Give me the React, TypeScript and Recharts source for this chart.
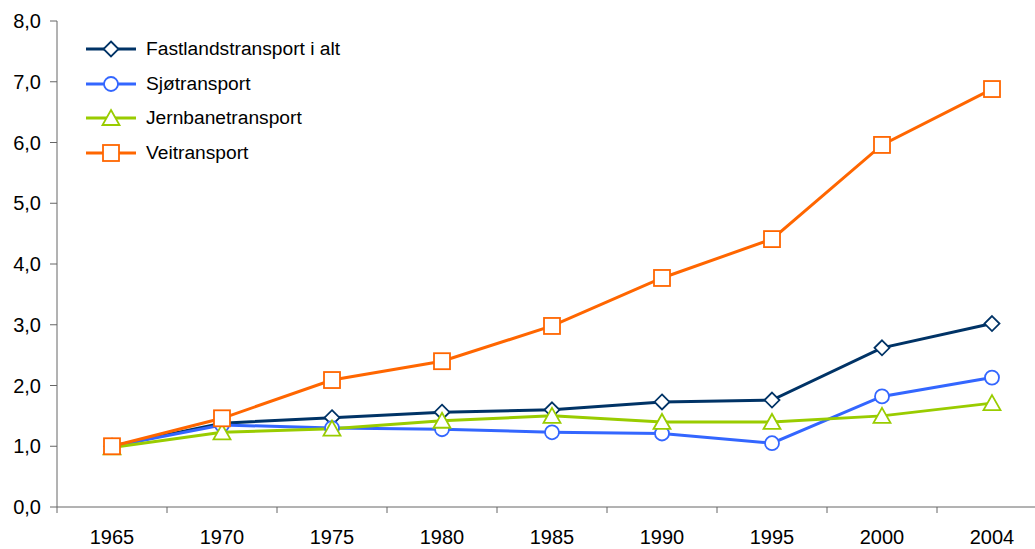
import React from 'react';
import { LineChart, Line, XAxis, YAxis, Legend } from 'recharts';

// Index 1965 = 1,0
const years = ['1965', '1970', '1975', '1980', '1985', '1990', '1995', '2000', '2004'];
const fastland = [1.0, 1.38, 1.47, 1.56, 1.6, 1.73, 1.76, 2.62, 3.02];
const sjo = [1.0, 1.35, 1.3, 1.28, 1.23, 1.21, 1.05, 1.82, 2.13];
const jernbane = [0.98, 1.23, 1.29, 1.42, 1.5, 1.4, 1.4, 1.5, 1.71];
const vei = [1.0, 1.46, 2.09, 2.4, 2.98, 3.77, 4.41, 5.96, 6.88];
const yTicks = [0, 1, 2, 3, 4, 5, 6, 7, 8];

const FONT = '"Liberation Sans", Arial, sans-serif';
const AXIS = '#666';

type Kind = 'diamond' | 'circle' | 'triangle' | 'square';

const series: { key: string; name: string; color: string; kind: Kind; values: number[] }[] = [
    { key: 'fastland', name: 'Fastlandstransport i alt', color: '#003366', kind: 'diamond', values: fastland },
    { key: 'sjo', name: 'Sjøtransport', color: '#3366FF', kind: 'circle', values: sjo },
    { key: 'jernbane', name: 'Jernbanetransport', color: '#99CC00', kind: 'triangle', values: jernbane },
    { key: 'vei', name: 'Veitransport', color: '#FF6600', kind: 'square', values: vei },
];

// each year sits in the middle of its band: position i + 0.5
const data = years.map((year, i) => {
    const row: any = { pos: i + 0.5, year };
    series.forEach((s) => { row[s.key] = s.values[i]; });
    return row;
});

// ticks at band edges (tick marks) and band centres (labels)
const xTicks: number[] = [];
for (let i = 0; i <= years.length * 2; i++) xTicks.push(i / 2);

const TICK_SIZE = 6;
const TICK_MARGIN = 17;

function Marker({ kind, cx, cy, color }: { kind: Kind; cx: number; cy: number; color: string }) {
    const common = { fill: '#fff', stroke: color, strokeWidth: 1.8 };
    if (kind === 'diamond') {
        return <polygon points={`${cx},${cy - 7.5} ${cx + 7.5},${cy} ${cx},${cy + 7.5} ${cx - 7.5},${cy}`} {...common} />;
    }
    if (kind === 'circle') return <circle cx={cx} cy={cy} r={7} {...common} />;
    if (kind === 'triangle') {
        return <polygon points={`${cx},${cy - 8} ${cx + 8.5},${cy + 7} ${cx - 8.5},${cy + 7}`} {...common} />;
    }
    return <rect x={cx - 8} y={cy - 8} width={16} height={16} {...common} />;
}

const XTick = (props: any) => {
    const { x, y, payload } = props;
    const v = payload.value;
    if (Number.isInteger(v)) {
        const axisY = y - TICK_SIZE - TICK_MARGIN;
        return <line x1={x} x2={x} y1={axisY} y2={axisY + TICK_SIZE} stroke={AXIS} strokeWidth={1} />;
    }
    return (
        <text x={x} y={y} dy="0.71em" textAnchor="middle" fill="#000" fontSize={20} fontFamily={FONT}>
            {years[Math.floor(v)]}
        </text>
    );
};

const LegendBox = () => (
    <div style={{ fontFamily: FONT, fontSize: 19.2, color: '#000' }}>
        {series.map((s) => (
            <div key={s.key} style={{ display: 'flex', alignItems: 'center', height: 34.5 }}>
                <svg width={50} height={22} style={{ marginRight: 10 }}>
                    <line x1={0} x2={50} y1={11} y2={11} stroke={s.color} strokeWidth={3} />
                    <Marker kind={s.kind} cx={25} cy={11} color={s.color} />
                </svg>
                <span>{s.name}</span>
            </div>
        ))}
    </div>
);

export default function App() {
    return (
        <div style={{ position: 'fixed', left: 0, top: 0, width: 1035, height: 549, overflow: 'hidden', background: '#fff' }}>
            <LineChart width={1070} height={549} data={data} margin={{ top: 21, right: 23, bottom: 0, left: 0 }}>
                <XAxis
                    dataKey="pos"
                    type="number"
                    domain={[0, years.length]}
                    ticks={xTicks}
                    interval={0}
                    tick={<XTick />}
                    tickLine={false}
                    tickSize={TICK_SIZE}
                    tickMargin={TICK_MARGIN}
                    height={42}
                    stroke={AXIS}
                />
                <YAxis
                    domain={[0, 8]}
                    ticks={yTicks}
                    interval={0}
                    width={57}
                    tickSize={7}
                    tickMargin={9}
                    stroke={AXIS}
                    tick={{ fill: '#000', fontSize: 20, fontFamily: FONT }}
                    tickFormatter={(v: number) => v.toFixed(1).replace('.', ',')}
                />
                <Legend
                    layout="vertical"
                    align="center"
                    verticalAlign="middle"
                    content={() => <LegendBox />}
                    wrapperStyle={{ left: 86, top: 32, width: 'auto' }}
                />
                {series.map((s) => (
                    <Line
                        key={s.key}
                        dataKey={s.key}
                        name={s.name}
                        stroke={s.color}
                        strokeWidth={3}
                        isAnimationActive={false}
                        dot={(p: any) => <Marker key={`${s.key}-${p.index}`} kind={s.kind} cx={p.cx} cy={p.cy} color={s.color} />}
                        activeDot={false}
                    />
                ))}
            </LineChart>
        </div>
    );
}
